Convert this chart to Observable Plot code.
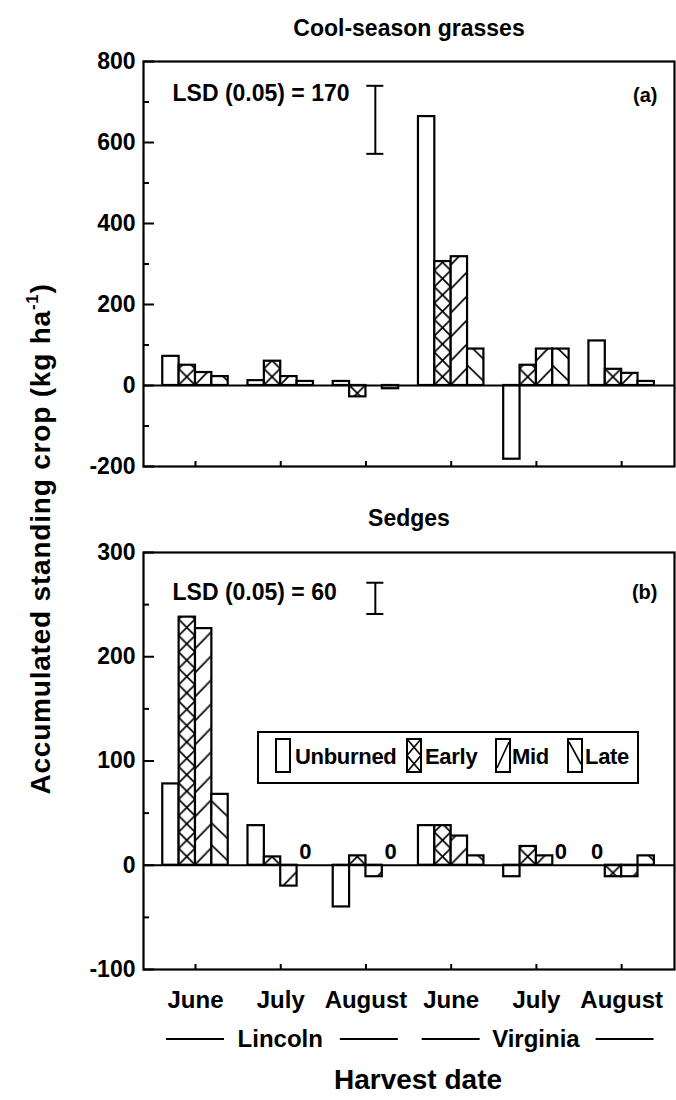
<!DOCTYPE html>
<html><head><meta charset="utf-8">
<script src="https://cdn.jsdelivr.net/npm/d3@7"></script>
<script src="https://cdn.jsdelivr.net/npm/@observablehq/plot@0.6"></script>
<style>
html,body{margin:0;padding:0;background:#fff;overflow:hidden;}
#page{position:relative;width:676px;height:1100px;overflow:hidden;font-family:"Liberation Sans",Arial,sans-serif;color:#000;background:#fff;}
#page svg{position:absolute;left:0;}
.lbl{position:absolute;white-space:nowrap;line-height:1;}
</style></head><body><div id="page"></div>
<script>
// ---- data ----
const months = ["June","July","August","June","July","August"];
const siteNames = ["Lincoln","Virginia"];
const siteCenter = [1, 4];
const treatments = ["Unburned","Early","Mid","Late"];
// Cool-season grasses (kg/ha), one value per harvest group
const coolUnburned = [72, 12, 10, 664, -182, 110];
const coolEarly    = [50, 60, -28, 306, 50, 40];
const coolMid      = [32, 22, 0, 318, 90, 30];
const coolLate     = [22, 10, -8, 90, 90, 10];
// Sedges (kg/ha)
const sedgeUnburned = [78, 38, -40, 38, -11, 0];
const sedgeEarly    = [238, 8, 9, 38, 18, -11];
const sedgeMid      = [227, -20, -11, 28, 9, -11];
const sedgeLate     = [68, 0, 0, 9, 0, 9];
// LSD annotations
const lsdLabels = ["LSD (0.05) = 170", "LSD (0.05) = 60"];
const lsdCoolBar = [572, 740];
const lsdSedgeBar = [241, 271];
const panelTitles = ["Cool-season grasses", "Sedges"];
const panelTags = ["(a)", "(b)"];
const coolTicks = [-200, 0, 200, 400, 600, 800];
const coolMinor = [-100, 100, 300, 500, 700];
const sedgeTicks = [-100, 0, 100, 200, 300];
const sedgeMinor = [-50, 50, 150, 250];

// ---- layout constants ----
const BW = 0.192;          // bar width in group units
const XDOM = [-0.61, 5.62];
const LSD_X = 2.11;
const FONT = '"Liberation Sans", Arial, sans-serif';
const page = document.getElementById("page");

function rows(panel, arrays) {
  const out = [];
  arrays.forEach((arr, t) => arr.forEach((v, g) => out.push({
    panel, g, t, v,
    x1: g + (t - 2) * BW, x2: g + (t - 1) * BW,
    pat: t === 0 ? "white" : `url(#${panel}-${g}-${t})`
  })));
  return out;
}

function addPatterns(svgEl, data) {
  const xs = svgEl.scale("x"), ys = svgEl.scale("y");
  const svg = d3.select(svgEl);
  const defs = svg.insert("defs", ":first-child");
  const y0 = ys.apply(0);
  data.filter(d => d.t > 0).forEach(d => {
    const x0 = xs.apply(d.x1), w = xs.apply(d.x2) - x0;
    let h, path;
    if (d.t === 1) { h = w; path = `M0,0L${w},${w}M${w},0L0,${w}`; }
    else if (d.t === 2) { h = 24; path = `M0,${h}L${w},${h - 17}M0,0L${w},-17`; }
    else { h = 22; path = `M0,${2}L${w},${18}M0,${2 - h}L${w},${18 - h}`; }
    const p = defs.append("pattern").attr("id", `${d.panel}-${d.g}-${d.t}`)
      .attr("patternUnits", "userSpaceOnUse")
      .attr("x", x0).attr("y", y0).attr("width", w).attr("height", h);
    p.append("rect").attr("width", w).attr("height", h).attr("fill", "white");
    p.append("path").attr("d", path).attr("stroke", "black").attr("stroke-width", 1.7).attr("fill", "none");
  });
}

function panel({data, yDomain, ticks, minor, height, marginTop, marginBottom, title, tag, lsdText, lsdBar, months: showMonths, zeroLabels, top}) {
  return Plot.plot({
    width: 676, height, marginLeft: 143, marginRight: 2, marginTop, marginBottom,
    x: {domain: XDOM, label: null},
    y: {domain: yDomain, label: null},
    color: {type: "identity"},
    style: {fontFamily: FONT, background: "transparent", color: "black"},
    marks: [
      Plot.rect(data, {x1: "x1", x2: "x2", y1: 0, y2: "v", fill: "pat", stroke: "black", strokeWidth: 2.2}),
      Plot.ruleY([0], {strokeWidth: 2.2}),
      Plot.frame({strokeWidth: 2.2}),
      Plot.axisY(ticks, {tickSize: 0, tickPadding: 8, fontSize: 23, fontWeight: "bold", tickFormat: d => String(d), label: null}),
      Plot.axisY(ticks, {tickSize: -11, strokeWidth: 2, tickFormat: () => "", label: null}),
      Plot.axisY(minor, {tickSize: -6, strokeWidth: 2, tickFormat: () => "", label: null}),
      Plot.axisX(d3.range(months.length), {tickSize: -5, strokeWidth: 2, tickFormat: () => "", label: null}),
      showMonths ? Plot.axisX(d3.range(months.length), {tickSize: 0, tickPadding: 21, fontSize: 24, fontWeight: "bold", tickFormat: i => months[i], label: null}) : null,
      zeroLabels ? Plot.text(data.filter(d => d.v === 0), {x: d => (d.x1 + d.x2) / 2, y: 0, text: () => "0", dy: -13, fontSize: 22, fontWeight: "bold"}) : null,
      Plot.ruleX([LSD_X], {y1: lsdBar[0], y2: lsdBar[1], strokeWidth: 2}),
      Plot.ruleY(lsdBar, {x1: LSD_X - 0.1, x2: LSD_X + 0.1, strokeWidth: 2}),
      Plot.text([lsdText], {frameAnchor: "top-left", textAnchor: "start", lineAnchor: "middle", dx: 29, dy: top ? 32 : 40, fontSize: 23, fontWeight: "bold"}),
      Plot.text([tag], {frameAnchor: "top-right", textAnchor: "end", lineAnchor: "middle", dx: -17, dy: top ? 34 : 40, fontSize: 20, fontWeight: "bold"}),
      Plot.text([title], {frameAnchor: "top", textAnchor: "middle", lineAnchor: "middle", dy: top ? -33 : -34, fontSize: 23, fontWeight: "bold", letterSpacing: "0.6px"})
    ]
  });
}

const coolData = rows("cool", [coolUnburned, coolEarly, coolMid, coolLate]);
const sedgeData = rows("sedge", [sedgeUnburned, sedgeEarly, sedgeMid, sedgeLate]);

const p1 = panel({data: coolData, yDomain: [-200, 800], ticks: coolTicks, minor: coolMinor,
  height: 500, marginTop: 61, marginBottom: 34, title: panelTitles[0], tag: panelTags[0],
  lsdText: lsdLabels[0], lsdBar: lsdCoolBar, months: false, zeroLabels: false, top: true});
p1.style.top = "0px";
page.appendChild(p1);
addPatterns(p1, coolData);

const p2 = panel({data: sedgeData, yDomain: [-100, 300], ticks: sedgeTicks, minor: sedgeMinor,
  height: 600, marginTop: 52, marginBottom: 131, title: panelTitles[1], tag: panelTags[1],
  lsdText: lsdLabels[1], lsdBar: lsdSedgeBar, months: true, zeroLabels: true, top: false});
p2.style.top = "500px";
page.appendChild(p2);
addPatterns(p2, sedgeData);

// site labels with flanking lines, positioned through the x scale
{
  const xs = p2.scale("x");
  const g = d3.select(p2).append("g");
  siteNames.forEach((name, i) => {
    const c = siteCenter[i];
    g.append("text").attr("x", xs.apply(c)).attr("y", 541).attr("text-anchor", "middle")
      .attr("dominant-baseline", "middle").attr("font-size", 24).attr("font-weight", "bold")
      .attr("font-family", FONT).text(name);
    [[c - 1.34, c - 0.66], [c + 0.70, c + 1.38]].forEach(([a, b]) => {
      g.append("line").attr("x1", xs.apply(a)).attr("x2", xs.apply(b)).attr("y1", 539).attr("y2", 539)
        .attr("stroke", "black").attr("stroke-width", 1.8);
    });
  });
}

// legend
{
  const lg = document.createElement("div");
  lg.style.cssText = "position:absolute;left:257px;top:731px;width:382px;height:53px;border:2px solid #000;box-sizing:border-box;background:#fff;";
  const sw = [16, 147, 236, 308];
  const tx = [36, 166, 253, 326];
  treatments.forEach((name, t) => {
    const s = document.createElementNS("http://www.w3.org/2000/svg", "svg");
    s.setAttribute("width", 16); s.setAttribute("height", 35);
    s.style.cssText = `position:absolute;left:${sw[t]}px;top:5px;`;
    let inner = `<rect x="1" y="1" width="14" height="33" fill="white" stroke="black" stroke-width="2"/>`;
    if (t === 1) inner += `<path d="M1,1L15,17.5M15,1L1,17.5M1,17.5L15,34M15,17.5L1,34" stroke="black" stroke-width="1.6"/>`;
    if (t === 2) inner += `<path d="M2,30L14,4" stroke="black" stroke-width="1.6"/>`;
    if (t === 3) inner += `<path d="M2,4L14,26" stroke="black" stroke-width="1.6"/>`;
    s.innerHTML = inner;
    lg.appendChild(s);
    const l = document.createElement("div");
    l.className = "lbl";
    l.style.cssText = `left:${tx[t]}px;top:13px;font-size:22px;font-weight:bold;letter-spacing:-0.3px;`;
    l.textContent = name;
    lg.appendChild(l);
  });
  page.appendChild(lg);
}

// y-axis title
{
  const d = document.createElement("div");
  d.className = "lbl";
  d.style.cssText = "left:41px;top:539px;font-size:28px;font-weight:bold;letter-spacing:0.8px;transform:translate(-50%,-50%) rotate(-90deg);";
  d.innerHTML = 'Accumulated standing crop (kg ha<sup style="font-size:60%;vertical-align:top;position:relative;top:-2px">-1</sup>)';
  page.appendChild(d);
}
// x-axis title
{
  const d = document.createElement("div");
  d.className = "lbl";
  d.style.cssText = "left:418px;top:1080px;font-size:28px;font-weight:bold;transform:translate(-50%,-50%);";
  d.textContent = "Harvest date";
  page.appendChild(d);
}
</script></body></html>
